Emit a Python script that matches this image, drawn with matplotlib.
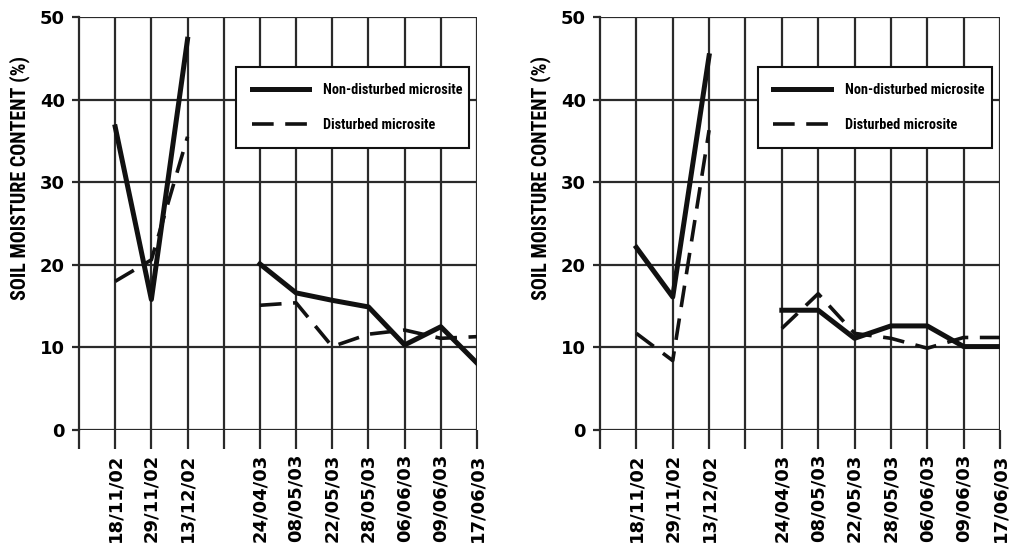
import matplotlib
matplotlib.use("Agg")
import matplotlib.pyplot as plt
from matplotlib import font_manager

# fechas de muestreo (posiciones 1-3 y 5-11, hueco en la 4)
dates = ["18/11/02", "29/11/02", "13/12/02",
         "24/04/03", "08/05/03", "22/05/03", "28/05/03", "06/06/03", "09/06/03", "17/06/03"]
pos = [1, 2, 3, 5, 6, 7, 8, 9, 10, 11]

# panel izquierdo
left_nd = [36.7, 15.8, 47.3, 20.1, 16.6, 15.7, 14.9, 10.3, 12.5, 8.1]
left_d = [18.0, 20.6, 35.5, 15.1, 15.4, 10.1, 11.6, 12.1, 11.1, 11.3]
# panel derecho
right_nd = [22.1, 16.1, 45.3, 14.5, 14.5, 11.1, 12.6, 12.6, 10.1, 10.1]
right_d = [11.7, 8.4, 36.3, 12.3, 16.5, 11.7, 11.1, 9.9, 11.2, 11.2]

yticks = [0, 10, 20, 30, 40, 50]
ylab = "SOIL MOISTURE CONTENT (%)"
lab_nd = "Non-disturbed microsite"
lab_d = "Disturbed microsite"

# busca una fuente estrecha instalada
narrow = "Liberation Sans"
is_narrow = False
for fam in ["Liberation Sans Narrow", "DejaVu Sans Condensed", "Roboto Condensed", "Arial Narrow"]:
    try:
        font_manager.findfont(font_manager.FontProperties(family=fam, weight="bold"),
                              fallback_to_default=False)
        narrow = fam
        is_narrow = True
        break
    except Exception:
        pass

if is_narrow:
    leg_size, ylab_size = 10.3, 14.5
else:
    leg_size, ylab_size = 8.8, 12.5

gridc = "#2a2a2a"

fig = plt.figure(figsize=(10.09, 5.53), dpi=100)
ax1 = fig.add_axes([79/1009, 1-430/553, 398/1009, 413/553])
ax2 = fig.add_axes([600/1009, 1-430/553, 400/1009, 413/553])

for ax, nd, d in [(ax1, left_nd, left_d), (ax2, right_nd, right_d)]:
    ax.set_xlim(0, 11)
    ax.set_ylim(0, 50)
    for s in ["top", "right", "bottom"]:
        ax.spines[s].set_visible(False)
    ax.spines["left"].set_linewidth(1.6)
    ax.spines["left"].set_color(gridc)
    # lineas de la rejilla
    for y in yticks:
        ax.axhline(y, color=gridc, lw=1.6, zorder=1)
    for x in range(1, 12):
        ax.axvline(x, color=gridc, lw=1.6, zorder=1)

    # primer tramo y segundo tramo por separado
    ax.plot(pos[:3], nd[:3], color="#111111", lw=3.6, zorder=3, label=lab_nd)
    ax.plot(pos[3:], nd[3:], color="#111111", lw=3.6, zorder=3)
    ax.plot(pos[:3], d[:3], color="#111111", lw=2.6, dashes=(6, 3.2), zorder=3, label=lab_d)
    ax.plot(pos[3:], d[3:], color="#111111", lw=2.6, dashes=(6, 3.2), zorder=3)

    ax.set_xticks(list(range(0, 12)))
    ax.set_xticklabels([""] + dates[:3] + [""] + dates[3:], rotation=90,
                       fontsize=13, fontweight="bold", family="DejaVu Sans")
    ax.tick_params(axis="x", length=14, width=1.6, color=gridc, pad=3)
    ax.set_yticks(yticks)
    ax.set_yticklabels([str(v) for v in yticks], fontsize=13, fontweight="bold", family="DejaVu Sans")
    ax.tick_params(axis="y", length=5, width=1.6, color=gridc, pad=5)

    ax.set_ylabel(ylab, fontsize=ylab_size, fontweight="bold", family=narrow)

    leg = ax.legend(loc="upper left", bbox_to_anchor=(0.394, 0.879, 0.586, 0.0), mode="expand",
                    frameon=True, fancybox=False, framealpha=1, edgecolor="#111111",
                    handlelength=4.0, handletextpad=1.0, borderpad=1.1, labelspacing=1.5,
                    borderaxespad=0,
                    prop={"family": narrow, "weight": "bold", "size": leg_size})
    leg.get_frame().set_linewidth(1.5)
    leg.set_zorder(5)

ax1.yaxis.set_label_coords(-0.123, 0.611)
ax2.yaxis.set_label_coords(-0.1225, 0.611)

plt.savefig("out.png", dpi=100)
